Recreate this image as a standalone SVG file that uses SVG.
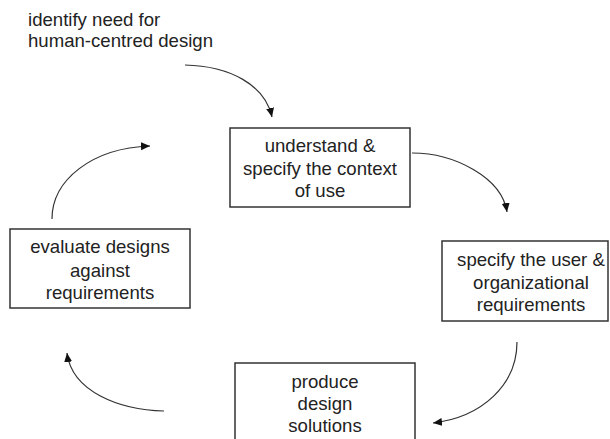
<svg xmlns="http://www.w3.org/2000/svg" width="610" height="439" viewBox="0 0 610 439">
<defs>
<style>
.box{fill:#fff;stroke:#333;stroke-width:1.5}
.t{font-family:"Liberation Sans",Arial,sans-serif;font-size:18.6px;fill:#222;text-anchor:middle}
.tl{font-family:"Liberation Sans",Arial,sans-serif;font-size:18.6px;fill:#222}
.c{fill:none;stroke:#333;stroke-width:1.2}
</style>
<marker id="ah" markerUnits="userSpaceOnUse" markerWidth="10" markerHeight="10" refX="9" refY="4" orient="auto">
<path d="M0,0 L9,4 L0,8 z" fill="#111"/>
</marker>
</defs>
<rect width="610" height="439" fill="#fff"/>
<g id="start">
<text class="tl" x="28" y="26">identify need for</text>
<text class="tl" x="28" y="47">human-centred design</text>
</g>
<g id="connectors">
<path class="c" d="M185,65 C230,66 265,85 272,117" marker-end="url(#ah)"/>
<path class="c" d="M412,153 C455,153 502,178 507,212" marker-end="url(#ah)"/>
<path class="c" d="M517,342 C517,385 482,417 433,423" marker-end="url(#ah)"/>
<path class="c" d="M164,411 C120,410 72,392 67,353" marker-end="url(#ah)"/>
<path class="c" d="M52,219 C52,180 92,148 150,146" marker-end="url(#ah)"/>
</g>
<g id="context">
<rect class="box" x="230" y="128" width="180" height="79"/>
<text class="t" x="320" y="152">understand &amp;</text>
<text class="t" x="320" y="175">specify the context</text>
<text class="t" x="320" y="197">of use</text>
</g>
<g id="requirements">
<rect class="box" x="442" y="241" width="166" height="80"/>
<text class="t" x="531" y="266">specify the user &amp;</text>
<text class="t" x="531" y="289">organizational</text>
<text class="t" x="531" y="311">requirements</text>
</g>
<g id="produce">
<rect class="box" x="235" y="363" width="180" height="90"/>
<text class="t" x="325" y="388">produce</text>
<text class="t" x="325" y="410">design</text>
<text class="t" x="325" y="432">solutions</text>
</g>
<g id="evaluate">
<rect class="box" x="10" y="229" width="180" height="79"/>
<text class="t" x="100" y="253">evaluate designs</text>
<text class="t" x="100" y="277">against</text>
<text class="t" x="100" y="299">requirements</text>
</g>
</svg>
